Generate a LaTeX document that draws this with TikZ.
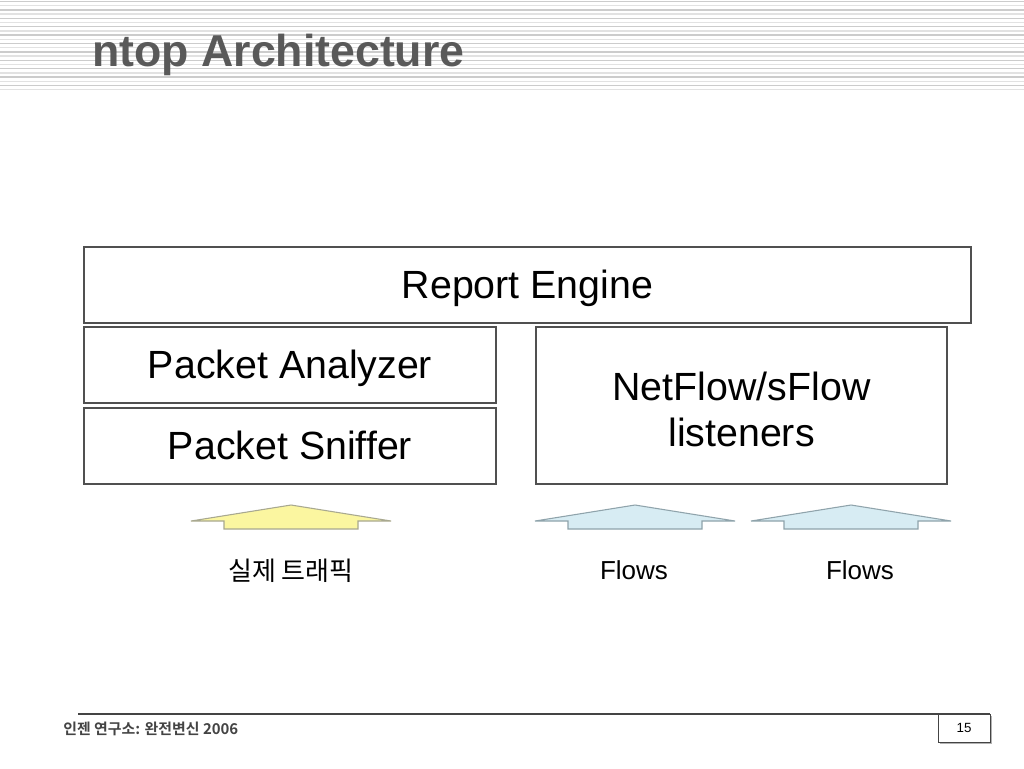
\documentclass[tikz,border=0pt]{standalone}
\usepackage{fontspec}
\setmainfont{Liberation Sans}
\newfontfamily\kr{Noto Sans CJK KR}[BoldFont={Noto Sans CJK KR Bold}]
\definecolor{titlegray}{HTML}{595959}
\definecolor{boxline}{HTML}{505050}
\definecolor{stripeA}{HTML}{CCCCCC}
\definecolor{stripeB}{HTML}{E2E2E2}
\definecolor{yfill}{HTML}{FBF6A0}
\definecolor{yline}{HTML}{A8A890}
\definecolor{bfill}{HTML}{D7ECF3}
\definecolor{bline}{HTML}{8FA3AB}
\definecolor{footgray}{HTML}{444444}
\tikzset{
  layerbox/.style={draw=boxline, line width=1pt, fill=white, inner sep=0pt,
    font=\fontsize{29.5}{34.5}\selectfont, align=center},
  onetext/.style={text height=23pt, text depth=3.2pt},
  lbl/.style={inner sep=0pt, font=\fontsize{19.5}{22}\selectfont},
  blockarrow/.pic={
    \path[pic actions] (-100,0) -- (0,-16) -- (100,0) -- (67,0) -- (67,8) -- (-67,8) -- (-67,0) -- cycle;
  }
}
\begin{document}
\begin{tikzpicture}[x=0.75pt,y=-0.75pt]
\useasboundingbox (0,0) rectangle (1024,768);
\fill[white] (0,0) rectangle (1024,768);
% header stripes
\foreach \i in {0,...,21}{
  \pgfmathsetmacro{\yy}{1.5+4.2*\i}
  \ifodd\i
    \draw[stripeB, line width=1.1pt] (0,\yy) -- (1024,\yy);
  \else
    \draw[stripeA, line width=1.1pt] (0,\yy) -- (1024,\yy);
  \fi
}
\node[anchor=base west, inner sep=0pt, text=titlegray,
  font=\fontsize{33.5}{36}\selectfont\bfseries] (title) at (92,66) {ntop Architecture};
% layers
\node[layerbox, onetext, minimum width=665.25pt, minimum height=57pt] (report) at (527.5,285) {Report Engine};
\node[layerbox, onetext, minimum width=309pt, minimum height=57pt] (analyzer) at (290,365) {Packet Analyzer};
\node[layerbox, onetext, minimum width=309pt, minimum height=57pt] (sniffer) at (290,446) {Packet Sniffer};
\node[layerbox, minimum width=308.25pt, minimum height=117.75pt] (netflow) at (741.5,405.5) {};
\node[inner sep=0pt, font=\fontsize{29.5}{34.5}\selectfont, align=center] (netflowtext) at (741.5,409) {NetFlow/sFlow\\ listeners};
% input arrows
\pic[fill=yfill, draw=yline, line width=0.8pt] at (291,521) {blockarrow};
\pic[fill=bfill, draw=bline, line width=0.8pt] at (635,521) {blockarrow};
\pic[fill=bfill, draw=bline, line width=0.8pt] at (851,521) {blockarrow};
\node[lbl, font=\kr\fontsize{19.5}{22}\selectfont] (traffic) at (291,571) {실제 트래픽};
\node[lbl] (flows1) at (634,570) {Flows};
\node[lbl] (flows2) at (860,570) {Flows};
% footer
\coordinate (fl) at (78,714);
\coordinate (fr) at (990,714);
\draw[footgray, line width=0.9pt] (fl) -- (fr);
\node[anchor=west, inner sep=0pt, text=footgray, font=\kr\bfseries\fontsize{11.2}{12}\selectfont] (foot) at (63,729) {인젠 연구소: 완전변신 2006};
\draw[gray!60, line width=1.5pt] (940,743) -- (991,743) -- (991,716);
\node[draw=footgray, line width=0.7pt, fill=white, minimum width=39pt, minimum height=21pt, inner sep=0pt,
  font=\fontsize{10}{11}\selectfont] (page) at (964,728) {15};
\end{tikzpicture}
\end{document}
